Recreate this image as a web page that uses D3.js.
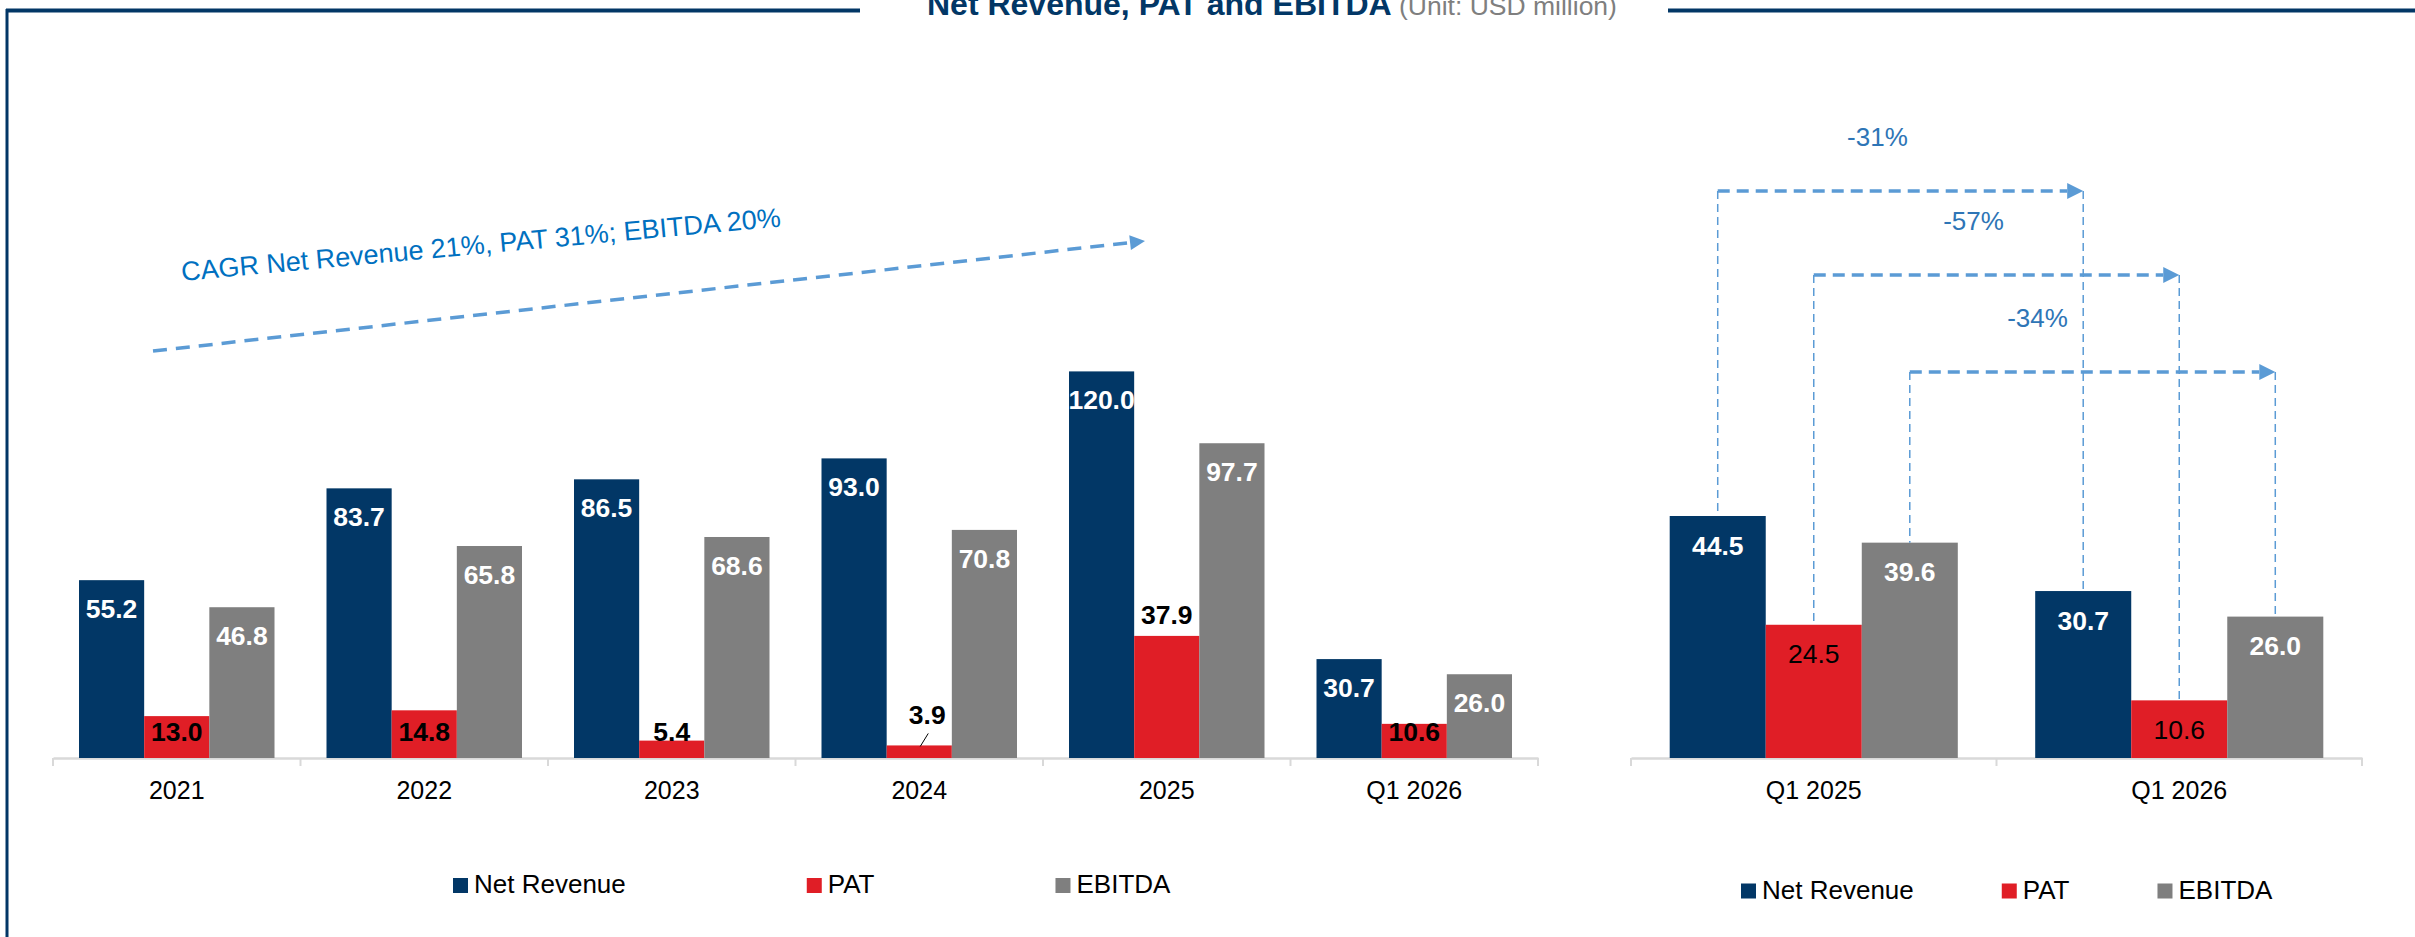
<!DOCTYPE html>
<html>
<head>
<meta charset="utf-8">
<script src="https://cdn.jsdelivr.net/npm/d3@7"></script>
<style>
body { margin: 0; background: #fff; }
text { font-family: "Liberation Sans", Arial, sans-serif; }
</style>
</head>
<body>
<svg id="chart" width="2415" height="937"></svg>
<script>
// yearly data
var years = ["2021", "2022", "2023", "2024", "2025", "Q1 2026"]
var netRevenue = [55.2, 83.7, 86.5, 93.0, 120.0, 30.7]
var pat = [13.0, 14.8, 5.4, 3.9, 37.9, 10.6]
var ebitda = [46.8, 65.8, 68.6, 70.8, 97.7, 26.0]

// quarter comparison
var quarters = ["Q1 2025", "Q1 2026"]
var qNetRevenue = [44.5, 30.7]
var qPat = [24.5, 10.6]
var qEbitda = [39.6, 26.0]
var qChange = ["-31%", "-57%", "-34%"]

var seriesNames = ["Net Revenue", "PAT", "EBITDA"]
var cagrText = "CAGR Net Revenue 21%, PAT 31%; EBITDA 20%"

var colors = {"Net Revenue": "#023766", "PAT": "#e01e26", "EBITDA": "#7f7f7f"}
var navy = "#023766"
var arrowBlue = "#5b9bd5"
var textBlue = "#2e75b6"

var svg = d3.select("#chart")
var baseY = 758

svg.append("rect").attr("width", 2415).attr("height", 937).attr("fill", "#fff")

//frame lines
svg.append("line").attr("x1", 7).attr("x2", 7).attr("y1", 9).attr("y2", 937)
.attr("stroke", navy).attr("stroke-width", 3)
svg.append("line").attr("x1", 6).attr("x2", 860).attr("y1", 10.5).attr("y2", 10.5)
.attr("stroke", navy).attr("stroke-width", 4)
svg.append("line").attr("x1", 1668).attr("x2", 2415).attr("y1", 10.5).attr("y2", 10.5)
.attr("stroke", navy).attr("stroke-width", 4)

//title
var title = svg.append("text")
.attr("x", 927).attr("y", 15)
.attr("font-size", 32).attr("font-weight", "bold").attr("fill", navy)
.text("Net Revenue, PAT and EBITDA")
title.append("tspan")
.attr("font-size", 26.5).attr("font-weight", "normal").attr("fill", "#7f7f7f")
.text(" (Unit: USD million)")

var makeRows = function(cats, a, b, c){
return cats.map(function(cat, i){
return {cat: cat, values: [
{key: "Net Revenue", v: a[i]},
{key: "PAT", v: b[i]},
{key: "EBITDA", v: c[i]}
]}
})
}

var rows = makeRows(years, netRevenue, pat, ebitda)
var qRows = makeRows(quarters, qNetRevenue, qPat, qEbitda)

// scales
var x0 = d3.scaleBand().domain(years).range([53, 1538])
var x1 = d3.scaleBand().domain(seriesNames).range([26, x0.bandwidth() - 26])
var y = d3.scaleLinear().domain([0, 120]).range([baseY, 371.4])

var qx0 = d3.scaleBand().domain(quarters).range([1631, 2362])
var qx1 = d3.scaleBand().domain(seriesNames).range([38.7, qx0.bandwidth() - 38.7])
var qy = d3.scaleLinear().domain([0, 44.5]).range([baseY, 516])

var drawAxis = function(xs){
var g = svg.append("g")
.attr("transform", "translate(0," + baseY + ")")
.call(d3.axisBottom(xs).tickSize(0).tickPadding(23))
g.select(".domain").attr("stroke", "#d9d9d9").attr("stroke-width", 2.5)
g.selectAll("text").attr("font-size", 25).attr("fill", "#000")
.style("font-family", '"Liberation Sans", Arial, sans-serif')

//ticks sit between the groups, not under them
var edges = xs.domain().map(function(d){ return xs(d) }).concat([xs.range()[1]])
g.selectAll(".edge").data(edges).enter().append("line")
.attr("x1", d => d).attr("x2", d => d)
.attr("y1", 0).attr("y2", 8)
.attr("stroke", "#d9d9d9").attr("stroke-width", 2)
}

var drawBars = function(data, xs, xi, ys){
var grp = svg.selectAll(null)
.data(data)
.enter().append("g")
.attr("transform", d => "translate(" + xs(d.cat) + ",0)")

grp.selectAll("rect")
.data(d => d.values)
.enter().append("rect")
.attr("x", d => xi(d.key))
.attr("y", d => ys(d.v))
.attr("width", xi.bandwidth())
.attr("height", d => baseY - ys(d.v))
.attr("fill", d => colors[d.key])
return grp
}

drawAxis(x0)
drawAxis(qx0)

var grp = drawBars(rows, x0, x1, y)
var qGrp = drawBars(qRows, qx0, qx1, qy)

//labels for the yearly chart
var patLabelY = function(v){
if (v > 30) return y(v) - 12
if (v < 5) return y(v) - 21
return baseY - 17
}

grp.selectAll(".lbl")
.data(d => d.values)
.enter().append("text")
.attr("x", d => x1(d.key) + x1.bandwidth()/2 + (d.key == "PAT" && d.v < 5 ? 8 : 0))
.attr("y", d => d.key == "PAT" ? patLabelY(d.v) : y(d.v) + 38)
.attr("text-anchor", "middle")
.attr("font-size", 26.5).attr("font-weight", "bold")
.attr("fill", d => d.key == "PAT" ? "#000" : "#fff")
.text(d => d.v.toFixed(1))

//little leader line for the tiny PAT bar
grp.selectAll(".leader")
.data(d => d.values.filter(e => e.key == "PAT" && e.v < 5))
.enter().append("line")
.attr("x1", d => x1(d.key) + x1.bandwidth()/2 + 9)
.attr("y1", d => y(d.v) - 12)
.attr("x2", d => x1(d.key) + x1.bandwidth()/2 + 1)
.attr("y2", d => y(d.v) + 1)
.attr("stroke", "#000").attr("stroke-width", 1)

qGrp.selectAll(".lbl")
.data(d => d.values)
.enter().append("text")
.attr("x", d => qx1(d.key) + qx1.bandwidth()/2)
.attr("y", d => qy(d.v) + 38.5)
.attr("text-anchor", "middle")
.attr("font-size", 26.5)
.attr("font-weight", d => d.key == "PAT" ? "normal" : "bold")
.attr("fill", d => d.key == "PAT" ? "#000" : "#fff")
.text(d => d.v.toFixed(1))

//arrow helper
var arrow = function(xa, ya, xb, yb, width, dash, head){
var ang = Math.atan2(yb - ya, xb - xa)
var ex = xb - head * Math.cos(ang), ey = yb - head * Math.sin(ang)
svg.append("line")
.attr("x1", xa).attr("y1", ya).attr("x2", ex).attr("y2", ey)
.attr("stroke", arrowBlue).attr("stroke-width", width)
.attr("stroke-dasharray", dash)
var deg = ang * 180 / Math.PI
svg.append("path")
.attr("d", "M0,0 L" + (-head) + "," + (-head/2) + " L" + (-head) + "," + (head/2) + "Z")
.attr("transform", "translate(" + xb + "," + yb + ") rotate(" + deg + ")")
.attr("fill", arrowBlue)
}

// CAGR arrow + text
arrow(153, 351, 1145, 241, 3.5, "14,9", 15)
svg.append("text")
.attr("transform", "translate(182,281) rotate(-5.2)")
.attr("font-size", 27).attr("fill", "#0070c0")
.text(cagrText)

//quarter change arrows
var arrowY = [191, 275, 372]
var labelDx = [-23, -23, -55]

seriesNames.forEach(function(key, i){
var a = qRows[0].values[i], b = qRows[1].values[i]
var xa = qx0(quarters[0]) + qx1(key) + qx1.bandwidth()/2
var xb = qx0(quarters[1]) + qx1(key) + qx1.bandwidth()/2

svg.append("line").attr("x1", xa).attr("x2", xa)
.attr("y1", arrowY[i]).attr("y2", qy(a.v))
.attr("stroke", arrowBlue).attr("stroke-width", 1.5).attr("stroke-dasharray", "8,5")
svg.append("line").attr("x1", xb).attr("x2", xb)
.attr("y1", arrowY[i]).attr("y2", qy(b.v))
.attr("stroke", arrowBlue).attr("stroke-width", 1.5).attr("stroke-dasharray", "8,5")

arrow(xa, arrowY[i], xb, arrowY[i], 3.5, "12,7", 16)

svg.append("text")
.attr("x", (xa + xb)/2 + labelDx[i])
.attr("y", arrowY[i] - 45)
.attr("text-anchor", "middle")
.attr("font-size", 26).attr("fill", textBlue)
.text(qChange[i])
})

// legends
var legend = function(startX, sqY, textY, spacing){
var cx = startX
seriesNames.forEach(function(key){
svg.append("rect").attr("x", cx).attr("y", sqY)
.attr("width", 15).attr("height", 15).attr("fill", colors[key])
var t = svg.append("text").attr("x", cx + 21).attr("y", textY)
.attr("font-size", 26).attr("fill", "#000").text(key)
cx = cx + 21 + t.node().getComputedTextLength() + spacing
})
}

legend(453, 878, 893, 181)
legend(1741, 883.5, 899, 88)
</script>
</body>
</html>
